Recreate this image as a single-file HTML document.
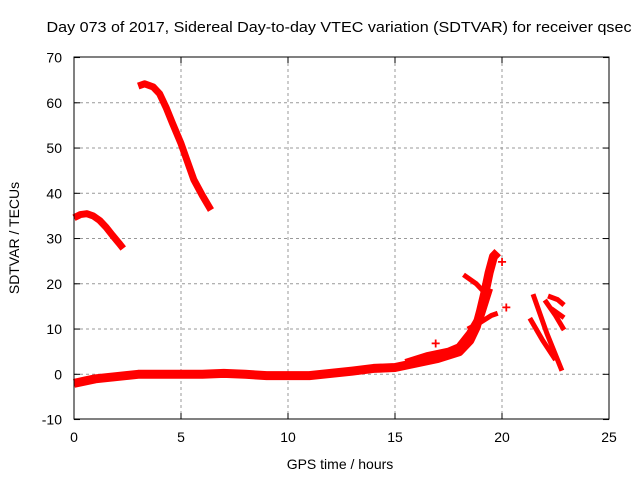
<!DOCTYPE html>
<html><head><meta charset="utf-8"><style>
body{margin:0;background:#fff;font-family:"Liberation Sans",sans-serif;overflow:hidden}
svg{display:block}
svg text{font-family:"Liberation Sans",sans-serif;font-size:14px;fill:#000}
</style></head><body>
<svg width="640" height="480">
<g id="grid"></g>
<g id="series"></g>
<rect x="74" y="57" width="535" height="362" fill="none" stroke="#000" stroke-width="1"/>
<g id="ticks"></g>
<text x="339" y="32" text-anchor="middle" textLength="585" lengthAdjust="spacingAndGlyphs" style="font-size:15px">Day 073 of 2017, Sidereal Day-to-day VTEC variation (SDTVAR) for receiver qsec</text>
<text x="340" y="469" text-anchor="middle">GPS time / hours</text>
<text transform="translate(19,238) rotate(-90)" text-anchor="middle">SDTVAR / TECUs</text>
</svg>
<script>
const xTicks=[0,5,10,15,20,25];
const yTicks=[-10,0,10,20,30,40,50,60,70];
const segA=[[0,34.6],[0.3,35.3],[0.6,35.5],[0.9,35],[1.2,34],[1.5,32.5],[1.8,30.7],[2.1,29],[2.3,27.8]];
const segB=[[3,63.7],[3.3,64.2],[3.7,63.5],[4,62],[4.3,59],[4.6,55.5],[5,51],[5.3,47],[5.6,43],[6,39.5],[6.4,36.3]];
const segMain=[[0,-2],[0.5,-1.5],[1,-1],[2,-0.5],[3,0],[4,0],[5,0],[6,0],[7,0.2],[8,0],[9,-0.3],[10,-0.3],[11,-0.3],[12,0.2],[13,0.7],[14,1.3],[15,1.5],[16,2.5],[17,3.5],[18,5],[18.5,7.5],[18.8,10.5],[19,14],[19.2,18],[19.4,22.5],[19.6,26],[19.8,27]];
const segLow=[[15.5,2.5],[16.5,4],[17.5,5],[18,6],[18.5,9],[19,13],[19.4,19]];
const segC=[[18.2,22],[18.8,20],[19.3,17.5]];
const segD=[[18.4,10],[19,11.5],[19.5,13],[19.8,13.5]];
const segE=[[21.45,17.7],[22.1,9],[22.8,0.8]];
const segF=[[21.3,12.4],[21.9,7.5],[22.5,3.2]];
const segG=[[22,16.4],[22.5,13],[22.9,9.8]];
const segH=[[22.15,17.3],[22.6,16.5],[22.9,15.3]];
const segI=[[22.3,14.5],[22.9,12.5]];
const segs=[segA,segB,segMain,segLow,segC,segD,segE,segF,segG,segH,segI];
const widths=[7,7,9,8,5,5,5,5,5,5,5];
const marks=[[20,25],[20.2,15],[16.9,7]];
const X=v=>74+v*535/25, Y=v=>374.3-v*4.525;
const ns="http://www.w3.org/2000/svg";
const grid=document.getElementById('grid'),tk=document.getElementById('ticks'),sr=document.getElementById('series');
function mk(tag,at,p){const e=document.createElementNS(ns,tag);for(const k in at)e.setAttribute(k,at[k]);p.appendChild(e);return e;}
xTicks.forEach(t=>{
 if(t>0&&t<25){const l=mk('line',{x1:X(t),x2:X(t),y1:57,y2:419,stroke:'#999','stroke-dasharray':'3,3'},grid);
 
 }
 mk('line',{x1:X(t),x2:X(t),y1:419,y2:413,stroke:'#000'},tk);
 mk('line',{x1:X(t),x2:X(t),y1:57,y2:63,stroke:'#000'},tk);
 const tx=mk('text',{x:X(t),y:442,'text-anchor':'middle'},tk);tx.textContent=t;
 
 
});
yTicks.forEach(t=>{
 if(t>-10&&t<70){const l=mk('line',{x1:74,x2:609,y1:Y(t),y2:Y(t),stroke:'#999','stroke-dasharray':'3,3'},grid);
 
 }
 mk('line',{x1:74,x2:80,y1:Y(t),y2:Y(t),stroke:'#000'},tk);
 mk('line',{x1:609,x2:603,y1:Y(t),y2:Y(t),stroke:'#000'},tk);
 const tx=mk('text',{x:62,y:Y(t)+5,'text-anchor':'end'},tk);tx.textContent=t;
 
 
});
segs.forEach((s,i)=>{
 const p=mk('polyline',{points:s.map(d=>X(d[0])+','+Y(d[1])).join(' '),fill:'none',stroke:'#f00','stroke-width':widths[i],'stroke-linejoin':'round'},sr);
 
 
});
marks.forEach(d=>{
 const t=mk('text',{x:X(d[0]),y:Y(d[1])+6,'text-anchor':'middle',style:'fill:#f00;font-size:16px;font-weight:bold'},sr);t.textContent='+';
 
 
});
</script>
</body></html>
